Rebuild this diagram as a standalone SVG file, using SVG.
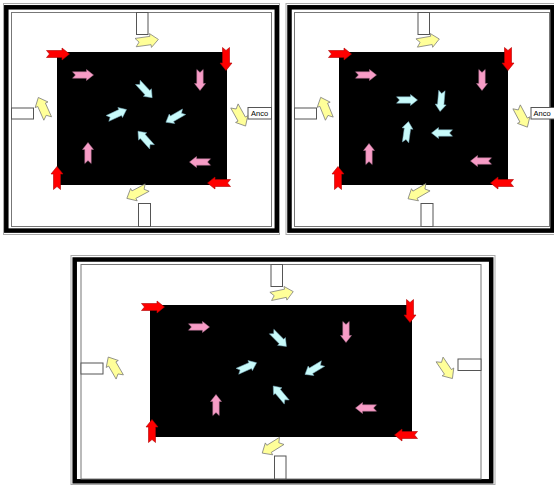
<svg xmlns="http://www.w3.org/2000/svg" xmlns:xlink="http://www.w3.org/1999/xlink" width="554" height="485" viewBox="0 0 554 485">
<style>
.outer{fill:none;stroke:#000;stroke-width:4.5}
.outline{fill:none;stroke:#aaa;stroke-width:1}
.inner{fill:#fff;stroke:#777;stroke-width:1}
.field{fill:#000}
.door{fill:#fff;stroke:#555;stroke-width:1}
.red{fill:#ff0000;stroke:#b00000;stroke-width:0.6}
.pink{fill:#f79cc6;stroke:#b07090;stroke-width:0.5}
.cyan{fill:#c8fafa;stroke:#7ab;stroke-width:0.5}
.yel{fill:#ffff99;stroke:#777;stroke-width:0.7}
.lbl{font-family:"Liberation Sans",Arial,sans-serif;font-size:7.5px;fill:#000}
</style>
<defs>
<path id="a" d="M-11.5,-3.5 L4,-3.5 L4,-6 L11.5,0 L4,6 L4,3.5 L-11.5,3.5 L-8.5,0 Z"/>
<path id="s" d="M-10.5,-3.2 L3.5,-3.2 L3.5,-5.5 L10.5,0 L3.5,5.5 L3.5,3.2 L-10.5,3.2 L-7.5,0 Z"/>
<path id="y" d="M-11.5,-4.2 L3.5,-4.2 L3.5,-7 L11.5,0 L3.5,7 L3.5,4.2 L-11.5,4.2 L-8,0 Z"/>
</defs>

<g id="panel1">
<rect x="0" y="0" width="283" height="237" fill="#fff"/>
<rect class="outline" x="3.5" y="3.5" width="276" height="231"/>
<rect class="outer" x="6.3" y="7.3" width="270.5" height="223.3"/>
<rect class="inner" x="11.5" y="12.5" width="260" height="214"/>
<rect class="field" x="57" y="52" width="170" height="133"/>
<g id="p1-door-top"><rect class="door" x="136.5" y="12.5" width="11.5" height="22"/></g>
<g id="p1-door-bottom"><rect class="door" x="138.5" y="203.5" width="12" height="23"/></g>
<g id="p1-door-left"><rect class="door" x="11.5" y="108" width="22" height="11"/></g>
<g id="p1-door-right"><rect class="door" x="248" y="107.5" width="23.5" height="11.5"/><text class="lbl" x="251" y="116">Anco</text></g>
<g id="p1-arrows">
<use href="#a" class="red" transform="translate(58,54)"/>
<use href="#a" class="red" transform="translate(226,59) rotate(90)"/>
<use href="#a" class="red" transform="translate(219,183) rotate(180)"/>
<use href="#a" class="red" transform="translate(57,178) rotate(-90)"/>
<use href="#s" class="pink" transform="translate(83,75)"/>
<use href="#s" class="pink" transform="translate(200,80) rotate(90)"/>
<use href="#s" class="pink" transform="translate(200,162) rotate(180)"/>
<use href="#s" class="pink" transform="translate(88,153) rotate(-90)"/>
<use href="#s" class="cyan" transform="translate(145,90) rotate(47)"/>
<use href="#s" class="cyan" transform="translate(117,114) rotate(-25)"/>
<use href="#s" class="cyan" transform="translate(175,117) rotate(150)"/>
<use href="#s" class="cyan" transform="translate(145,139) rotate(-132)"/>
<use href="#y" class="yel" transform="translate(147,41) rotate(-8)"/>
<use href="#y" class="yel" transform="translate(43,108) rotate(-114)"/>
<use href="#y" class="yel" transform="translate(240,116) rotate(61)"/>
<use href="#y" class="yel" transform="translate(137,193) rotate(152)"/>
</g>
</g>

<g id="panel2">
<rect class="outline" x="286" y="3.5" width="270" height="231"/>
<rect class="outer" x="289.5" y="7.3" width="263" height="223.3"/>
<rect class="inner" x="294.5" y="12.5" width="255" height="214"/>
<rect class="field" x="339" y="52" width="169" height="133"/>
<g id="p2-door-top"><rect class="door" x="418" y="12.5" width="11.5" height="22"/></g>
<g id="p2-door-bottom"><rect class="door" x="421" y="203.5" width="12" height="23"/></g>
<g id="p2-door-left"><rect class="door" x="294.5" y="108" width="22" height="11"/></g>
<g id="p2-door-right"><rect class="door" x="531" y="107.5" width="24" height="11.5"/><text class="lbl" x="533.5" y="116">Anco</text></g>
<g id="p2-arrows">
<use href="#a" class="red" transform="translate(340,54)"/>
<use href="#a" class="red" transform="translate(508,59) rotate(90)"/>
<use href="#a" class="red" transform="translate(502,183) rotate(180)"/>
<use href="#a" class="red" transform="translate(338,178) rotate(-90)"/>
<use href="#s" class="pink" transform="translate(366,75)"/>
<use href="#s" class="pink" transform="translate(482,80) rotate(90)"/>
<use href="#s" class="pink" transform="translate(481,161) rotate(180)"/>
<use href="#s" class="pink" transform="translate(369,154) rotate(-90)"/>
<use href="#s" class="cyan" transform="translate(407,100)"/>
<use href="#s" class="cyan" transform="translate(441,101) rotate(95)"/>
<use href="#s" class="cyan" transform="translate(442,133) rotate(180)"/>
<use href="#s" class="cyan" transform="translate(407,132) rotate(-82)"/>
<use href="#y" class="yel" transform="translate(428,41) rotate(-10)"/>
<use href="#y" class="yel" transform="translate(325,108) rotate(-112)"/>
<use href="#y" class="yel" transform="translate(522,117) rotate(62)"/>
<use href="#y" class="yel" transform="translate(418,193) rotate(150)"/>
</g>
</g>

<g id="panel3">
<rect class="outline" x="71" y="255.5" width="424" height="229"/>
<rect class="outer" x="74.7" y="259.5" width="416.5" height="221.8"/>
<rect class="inner" x="81" y="264.5" width="400" height="214.5"/>
<rect class="field" x="150" y="305" width="262" height="132"/>
<g id="p3-door-top"><rect class="door" x="271" y="264.5" width="11.5" height="22"/></g>
<g id="p3-door-bottom"><rect class="door" x="274.5" y="456" width="11.5" height="23"/></g>
<g id="p3-door-left"><rect class="door" x="81" y="363" width="22" height="11"/></g>
<g id="p3-door-right"><rect class="door" x="458" y="359" width="23" height="11.5"/></g>
<g id="p3-arrows">
<use href="#a" class="red" transform="translate(153,307)"/>
<use href="#a" class="red" transform="translate(410,311) rotate(90)"/>
<use href="#a" class="red" transform="translate(406,435) rotate(180)"/>
<use href="#a" class="red" transform="translate(152,431) rotate(-90)"/>
<use href="#s" class="pink" transform="translate(199,327)"/>
<use href="#s" class="pink" transform="translate(346,332) rotate(90)"/>
<use href="#s" class="pink" transform="translate(366,408) rotate(180)"/>
<use href="#s" class="pink" transform="translate(216,405) rotate(-90)"/>
<use href="#s" class="cyan" transform="translate(279,339) rotate(45)"/>
<use href="#s" class="cyan" transform="translate(247,367) rotate(-24)"/>
<use href="#s" class="cyan" transform="translate(314,369) rotate(149)"/>
<use href="#s" class="cyan" transform="translate(280,394) rotate(-130)"/>
<use href="#y" class="yel" transform="translate(282,294) rotate(-12)"/>
<use href="#y" class="yel" transform="translate(114,367) rotate(-120)"/>
<use href="#y" class="yel" transform="translate(446,369) rotate(56)"/>
<use href="#y" class="yel" transform="translate(272,447) rotate(148)"/>
</g>
</g>
</svg>
